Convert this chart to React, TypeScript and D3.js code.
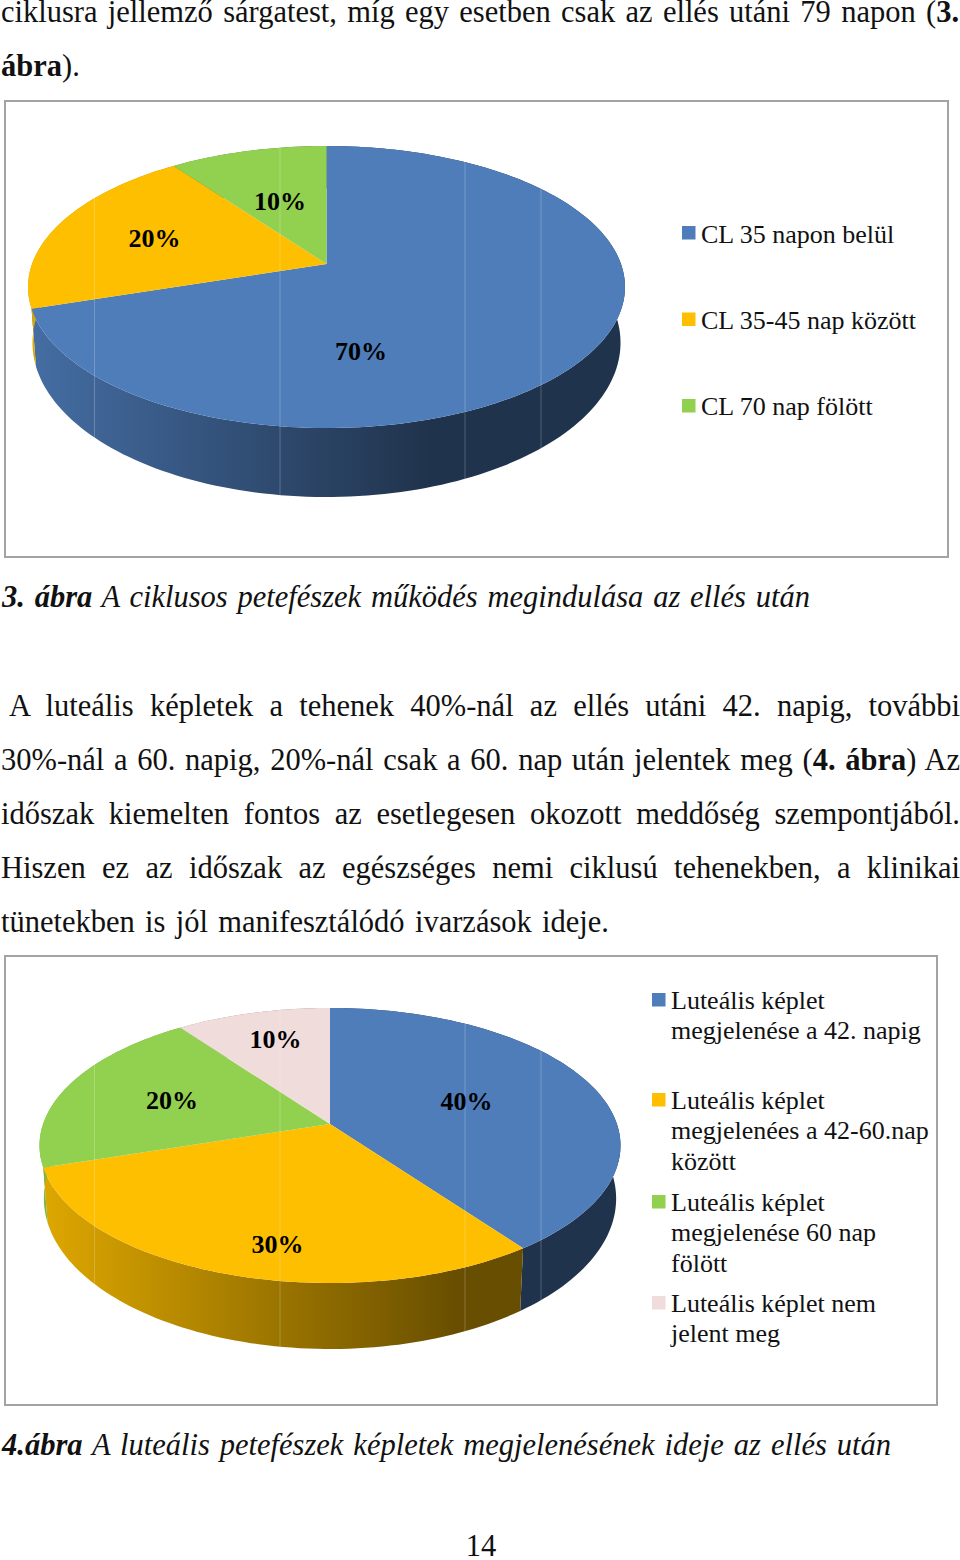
import { useLayoutEffect, useRef } from "react";
import * as d3 from "d3";

// chart data
const pie1Categories = ["CL 35 napon belül", "CL 35-45 nap között", "CL 70 nap fölött"];
const pie1Values = [70, 20, 10];
const pie2Categories = [
	"Luteális képlet megjelenése a 42. napig",
	"Luteális képlet megjelenées a 42-60.nap között",
	"Luteális képlet megjelenése 60 nap fölött",
	"Luteális képlet nem jelent meg",
];
const pie2Values = [40, 30, 20, 10];
const sliceColors = ["#4e7dba", "#fdbf00", "#92d050", "#f0dcdb"];

// legend line breaks of the second chart
const pie2LegendLines = [
	["Luteális képlet", "megjelenése a 42. napig"],
	["Luteális képlet", "megjelenées a 42-60.nap", "között"],
	["Luteális képlet", "megjelenése 60 nap", "fölött"],
	["Luteális képlet nem", "jelent meg"],
];

// page text, each line is a list of [text, style] runs
type Run = [string, string?];
const bodyLines: { y: number; x: number; right: number; runs: Run[] }[] = [
	{ y: 22, x: 1, right: 959, runs: [["ciklusra jellemző sárgatest, míg egy esetben csak az ellés utáni 79 napon ("], ["3.", "b"]] },
	{ y: 76, x: 1, right: 64, runs: [["ábra", "b"], [")."]] },
	{ y: 607, x: 2, right: 810, runs: [["3. ábra", "bi"], [" A ciklusos petefészek működés megindulása az ellés után", "i"]] },
	{ y: 716, x: 9, right: 960, runs: [["A luteális képletek a tehenek 40%-nál az ellés utáni 42. napig, további"]] },
	{ y: 770, x: 1, right: 960, runs: [["30%-nál a 60. napig, 20%-nál csak a 60. nap után jelentek meg ("], ["4. ábra", "b"], [") Az"]] },
	{ y: 824, x: 1, right: 960, runs: [["időszak kiemelten fontos az esetlegesen okozott meddőség szempontjából."]] },
	{ y: 878, x: 1, right: 960, runs: [["Hiszen ez az időszak az egészséges nemi ciklusú tehenekben, a klinikai"]] },
	{ y: 932, x: 1, right: 609, runs: [["tünetekben is jól manifesztálódó ivarzások ideje."]] },
	{ y: 1455, x: 2, right: 891, runs: [["4.ábra", "bi"], [" A luteális petefészek képletek megjelenésének ideje az ellés után", "i"]] },
];

const FONT = "'Liberation Serif', 'Times New Roman', serif";
const tileLines = [94.5, 280, 465, 541]; // faint seams of the scanned image

const shade = (c: string, k: number) => {
	const rgb = d3.rgb(c);
	return d3.rgb(rgb.r * k, rgb.g * k, rgb.b * k).formatHex();
};

function BodyLine({ line }: { line: (typeof bodyLines)[number] }) {
	const ref = useRef<SVGTextElement>(null);
	// stretch the word gaps so the line ends where it does on the page
	useLayoutEffect(() => {
		const el = ref.current;
		if (!el) return;
		el.style.wordSpacing = "0px";
		const gaps = line.runs.map((r) => r[0]).join("").split(" ").length - 1;
		const extra = line.right - line.x - el.getComputedTextLength();
		el.style.wordSpacing = extra / Math.max(gaps, 1) + "px";
	}, []);
	return (
		<text ref={ref} x={line.x} y={line.y} fontSize={30.5} fill="#111" xmlSpace="preserve">
			{line.runs.map((r, i) => (
				<tspan
					key={i}
					fontWeight={r[1]?.includes("b") ? "bold" : "normal"}
					fontStyle={r[1]?.includes("i") ? "italic" : "normal"}
				>
					{r[0]}
				</tspan>
			))}
		</text>
	);
}

type PieProps = {
	id: string;
	values: number[];
	cx: number;
	rx: number;
	top: number;
	pivot: number;
	bottom: number;
	frontDepth: number;
	darkX: number;
	labels: { x: number; y: number }[];
};

function Pie3D(props: PieProps) {
	const { id, values, cx, rx, top, pivot, bottom, frontDepth, darkX, labels } = props;

	// projective map of the unit disc, the pie centre is not the ellipse centre
	const c = (2 * pivot - top - bottom) / (bottom - top);
	const a = pivot - top * (1 - c);
	const d = rx * Math.sqrt(1 - c * c);
	const project = (t: number): [number, number] => {
		const u = Math.sin(t);
		const v = -Math.cos(t);
		const w = 1 + c * v;
		return [cx + (d * u) / w, (pivot + a * v) / w];
	};
	const lower = ([x, y]: [number, number]): [number, number] => [
		cx + (x - cx) * 0.985,
		y + frontDepth - 0.094 * (bottom - y),
	];

	const slices = d3.pie<number>().sort(null)(values);
	const color = d3.scaleOrdinal<number, string>().domain(d3.range(sliceColors.length)).range(sliceColors);
	const line = d3.line();

	const rim = (s: d3.PieArcDatum<number>) => {
		const n = Math.ceil((s.endAngle - s.startAngle) * 40);
		const t = d3.scaleLinear().domain([0, n]).range([s.startAngle, s.endAngle]);
		return d3.range(n + 1).map((i) => project(t(i)));
	};
	const topPath = (s: d3.PieArcDatum<number>) => line([[cx, pivot], ...rim(s)]) + "Z";
	const sidePath = (s: d3.PieArcDatum<number>) => {
		const pts = rim(s);
		return line([...pts, ...pts.map(lower).reverse()]) + "Z";
	};

	const x0 = cx - rx;
	return (
		<g>
			<defs>
				{slices.map((s) => (
					<linearGradient key={s.index} id={`${id}-side-${s.index}`} gradientUnits="userSpaceOnUse" x1={x0} x2={darkX} y1={0} y2={0}>
						<stop offset="0" stopColor={shade(color(s.index), 0.88)} />
						<stop offset="1" stopColor={shade(color(s.index), 0.41)} />
					</linearGradient>
				))}
				<clipPath id={`${id}-clip`}>
					{slices.map((s) => (
						<path key={s.index} d={sidePath(s)} />
					))}
					{slices.map((s) => (
						<path key={s.index} d={topPath(s)} />
					))}
				</clipPath>
			</defs>
			{slices.map((s) => (
				<path key={s.index} d={sidePath(s)} fill={`url(#${id}-side-${s.index})`} />
			))}
			{slices.map((s) => (
				<path key={s.index} d={topPath(s)} fill={color(s.index)} />
			))}
			<g clipPath={`url(#${id}-clip)`}>
				{tileLines.map((x) => (
					<line key={x} x1={x} x2={x} y1={top} y2={bottom + frontDepth} stroke="#fff" strokeOpacity={0.22} />
				))}
			</g>
			{slices.map((s, i) => (
				<text key={s.index} x={labels[i].x} y={labels[i].y} textAnchor="middle" fontSize={26} fontWeight="bold" fill="#000">
					{s.value}%
				</text>
			))}
		</g>
	);
}

function LegendSwatch({ x, y, fill }: { x: number; y: number; fill: string }) {
	return <rect x={x} y={y} width={13.5} height={13.5} fill={fill} />;
}

export default function App() {
	return (
		<svg
			width={960}
			height={1560}
			style={{ position: "absolute", left: 0, top: 0, display: "block", background: "#fff" }}
			fontFamily={FONT}
		>
			{bodyLines.map((l) => (
				<BodyLine key={l.y} line={l} />
			))}

			{/* chart 3 */}
			<rect x={5} y={101} width={943} height={456} fill="#fff" stroke="#a3a3a3" strokeWidth={2} />
			<Pie3D
				id="p1"
				values={pie1Values}
				cx={326.5}
				rx={298.5}
				top={146}
				pivot={264}
				bottom={428}
				frontDepth={69}
				darkX={430}
				labels={[
					{ x: 361, y: 360 },
					{ x: 154.5, y: 247 },
					{ x: 280, y: 210 },
				]}
			/>
			{pie1Categories.map((name, i) => (
				<g key={name}>
					<LegendSwatch x={682} y={226 + i * 86.5} fill={sliceColors[i]} />
					<text x={701} y={243 + i * 86} fontSize={26} fill="#111">
						{name}
					</text>
				</g>
			))}

			{/* chart 4 */}
			<rect x={5} y={956} width={932} height={449} fill="#fff" stroke="#a3a3a3" strokeWidth={2} />
			<Pie3D
				id="p2"
				values={pie2Values}
				cx={330}
				rx={290.5}
				top={1008}
				pivot={1124}
				bottom={1283}
				frontDepth={66}
				darkX={457}
				labels={[
					{ x: 466.5, y: 1110 },
					{ x: 277.5, y: 1253 },
					{ x: 172, y: 1109 },
					{ x: 275.5, y: 1048 },
				]}
			/>
			{pie2Categories.map((name, i) => {
				const legendTop = [1009, 1109, 1211, 1312][i];
				return (
					<g key={name}>
						<LegendSwatch x={652} y={legendTop - 16} fill={sliceColors[i]} />
						{pie2LegendLines[i].map((t, j) => (
							<text key={j} x={671} y={legendTop + j * 30.3} fontSize={26} fill="#111">
								{t}
							</text>
						))}
					</g>
				);
			})}

			<text x={481} y={1556} textAnchor="middle" fontSize={30.5} fill="#111">
				14
			</text>
		</svg>
	);
}
